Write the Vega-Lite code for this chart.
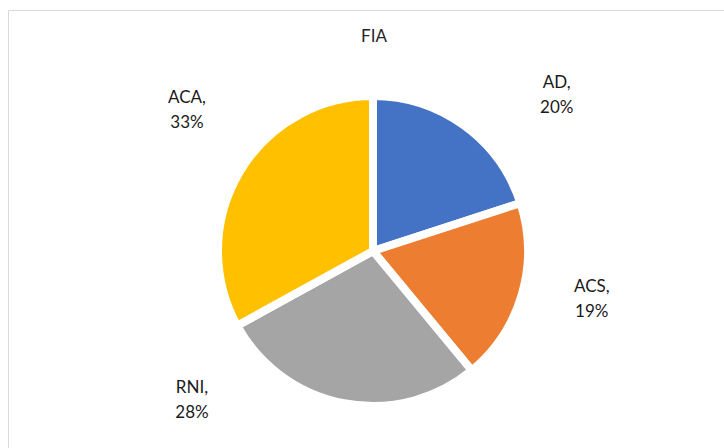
{
  "$schema": "https://vega.github.io/schema/vega-lite/v6.json",
  "width": 716,
  "height": 438,
  "autosize": {"type": "none"},
  "padding": {"left": 8, "top": 10, "right": 0, "bottom": 0},
  "background": "white",
  "config": {"view": {"stroke": "#D9D9D9", "strokeWidth": 1}},
  "title": {"text": "FIA", "offset": -36, "dx": 8, "font": "Lato", "fontSize": 17, "fontWeight": "normal", "color": "#262626", "anchor": "middle"},
  "data": {
    "values": [
      {"cat": "AD", "value": 20, "order": 1},
      {"cat": "ACS", "value": 19, "order": 2},
      {"cat": "RNI", "value": 28, "order": 3},
      {"cat": "ACA", "value": 33, "order": 4}
    ]
  },
  "transform": [
    {"calculate": "datum.cat + ',\\n' + datum.value + '%'", "as": "label"}
  ],
  "encoding": {
    "theta": {"field": "value", "type": "quantitative", "stack": true},
    "order": {"field": "order", "type": "quantitative"},
    "x": {"value": 365},
    "y": {"value": 241}
  },
  "layer": [
    {
      "mark": {"type": "arc", "outerRadius": 155, "stroke": "white", "strokeWidth": 8},
      "encoding": {
        "color": {
          "field": "cat",
          "type": "nominal",
          "scale": {"domain": ["AD", "ACS", "RNI", "ACA"], "range": ["#4472C4", "#ED7D31", "#A5A5A5", "#FFC000"]},
          "legend": null
        }
      }
    },
    {
      "mark": {
        "type": "text",
        "font": "Lato",
        "fontSize": 17,
        "lineBreak": "\n",
        "lineHeight": 25,
        "align": "center",
        "baseline": "middle",
        "dy": -12.5,
        "color": "#1a1a1a",
        "thetaOffset": {"expr": "datum.cat === 'AD' ? 0.239 : datum.cat === 'ACS' ? -0.066 : datum.cat === 'RNI' ? 0.691 : 0.112"},
        "radiusOffset": {"expr": "datum.cat === 'AD' ? 8 : datum.cat === 'ACS' ? -9 : datum.cat === 'RNI' ? 2 : 0"}
      },
      "encoding": {
        "radius": {"value": 233},
        "text": {"field": "label"}
      }
    }
  ]
}
